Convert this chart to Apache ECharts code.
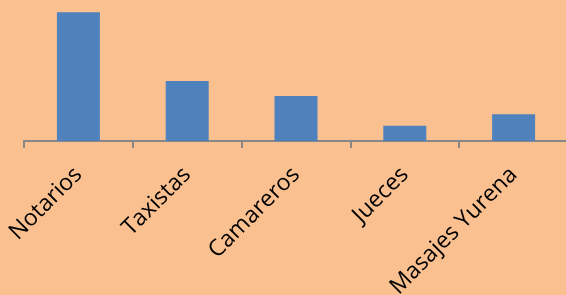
<!DOCTYPE html>
<html>
<head>
<meta charset="utf-8">
<script src="https://cdn.jsdelivr.net/npm/echarts@6/dist/echarts.min.js"></script>
<style>
  html, body { margin: 0; padding: 0; background: #FAC090; }
  #main { width: 566px; height: 295px; }
</style>
</head>
<body>
<div id="main"></div>
<script>
var categories = ['Notarios', 'Taxistas', 'Camareros', 'Jueces', 'Masajes Yurena'];
var values = [42, 19.6, 14.7, 5, 8.7];

var myChart = echarts.init(document.getElementById('main'));
myChart.setOption({
    backgroundColor: '#FAC090',
    animation: false,
    grid: {
        left: 24,
        top: 0,
        width: 544,
        bottom: 154,
        containLabel: false,
        outerBoundsMode: 'none'
    },
    xAxis: {
        type: 'category',
        data: categories,
        axisLine: {
            lineStyle: { color: '#878787', width: 2 }
        },
        axisTick: {
            show: true,
            length: 7,
            lineStyle: { color: '#878787', width: 2 }
        },
        axisLabel: {
            rotate: 45,
            margin: 30,
            interval: 0,
            color: '#000000',
            fontSize: 23,
            fontFamily: 'Open Sans'
        }
    },
    yAxis: {
        type: 'value',
        min: 0,
        max: 46,
        show: false
    },
    series: [{
        type: 'bar',
        data: values,
        barWidth: 43,
        itemStyle: { color: '#4F81BD' }
    }]
});
</script>
</body>
</html>
